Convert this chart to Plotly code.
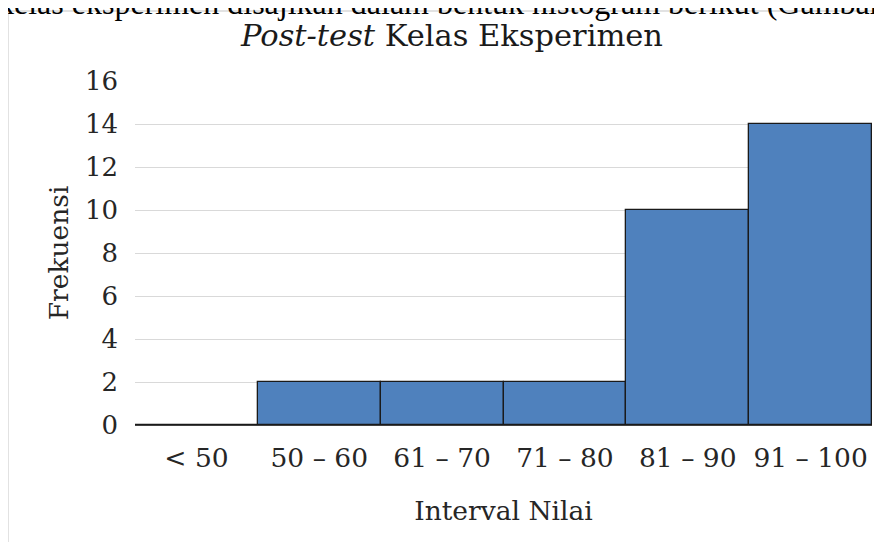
import plotly.graph_objects as go

categories = ["< 50", "50 – 60", "61 – 70", "71 – 80", "81 – 90", "91 – 100"]
frequencies = [0, 2, 2, 2, 10, 14]
y_ticks = [0, 2, 4, 6, 8, 10, 12, 14, 16]

FONT = "DejaVu Serif"
DOC_FONT = "Liberation Serif"
W, H = 882, 542
OFF = 8  # page body margin offset
L, R, T, B = 135 - OFF, 10 + OFF, 81 - OFF, 117 + OFF

fig = go.Figure(go.Bar(
    x=categories, y=frequencies,
    marker=dict(color="#4F81BD", line=dict(color="#1a1a1a", width=1.3)),
))

pw = W - L - R
ph = H - T - B
def px_x(p):
    return (p - OFF - L) / pw
def px_y(p):
    return (H - B - (p - OFF)) / ph

fig.update_layout(
    width=W, height=H,
    margin=dict(l=L, r=R, t=T, b=B),
    paper_bgcolor="white", plot_bgcolor="white",
    bargap=0,
    showlegend=False,
    font=dict(family=FONT, color="#262626"),
    title=dict(text="<i>Post-test</i> Kelas Eksperimen", font=dict(size=30.5, family=FONT, color="#1a1a1a"),
               xref="container", yref="container", x=(452 - OFF) / W, y=1 - (35 - OFF) / H,
               xanchor="center", yanchor="middle"),
    xaxis=dict(showgrid=False, showline=False, ticks="", zeroline=False,
               ticklabelstandoff=14,
               tickfont=dict(size=26.5, family=FONT, color="#262626"),
               title=dict(text="Interval Nilai", font=dict(size=26.5, family=FONT, color="#262626"), standoff=29)),
    yaxis=dict(range=[0, 16], tickvals=y_ticks, showgrid=True, gridcolor="#D9D9D9", gridwidth=1.3,
               zeroline=True, zerolinecolor="#404040", zerolinewidth=1.5, showline=False, ticks="",
               ticklabelstandoff=16,
               tickfont=dict(size=26, family=FONT, color="#262626"),
               title=dict(text="Frekuensi", font=dict(size=26.5, family=FONT, color="#262626"), standoff=8)),
    shapes=[
        dict(type="line", xref="paper", yref="paper", x0=px_x(8), x1=px_x(8), y0=px_y(11), y1=px_y(H + 20),
             line=dict(color="#D9D9D9", width=1.5)),
        dict(type="line", xref="paper", yref="paper", x0=px_x(8), x1=px_x(W + 20), y0=px_y(11), y1=px_y(11),
             line=dict(color="#D9D9D9", width=1.5)),
    ],
    annotations=[
        dict(text="kelas eksperimen disajikan dalam bentuk histogram berikut (Gambar",
             xref="paper", yref="paper", x=px_x(-4), y=px_y(23), xanchor="left", yanchor="bottom",
             showarrow=False, font=dict(size=32, family=DOC_FONT, color="#000000")),
    ],
)

fig.write_html("out.html")
